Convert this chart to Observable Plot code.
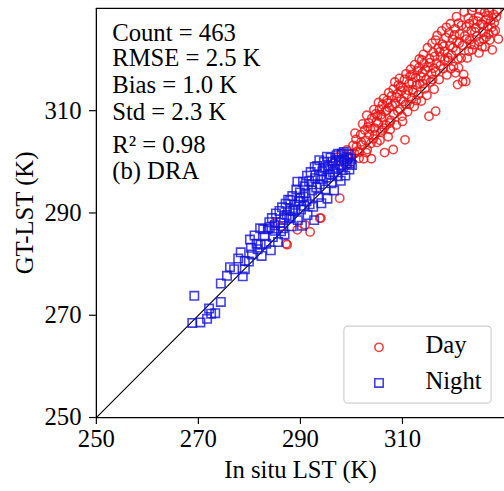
<!DOCTYPE html>
<html><head><meta charset="utf-8">
<script src="https://cdn.jsdelivr.net/npm/d3@7"></script>
<script src="https://cdn.jsdelivr.net/npm/@observablehq/plot@0.6"></script>
<style>html,body{margin:0;padding:0;overflow:hidden;background:#fff}</style>
</head><body><div id="chart"></div><script>
const dayPoints = [
[284.9,288.0],[287.4,283.8],[289.4,286.7],[291.9,286.3],[293.8,289.0],[290.9,287.7],[294.0,289.0],[287.2,284.0],[297.7,292.9],[286.1,287.3],
[296.5,299.8],[297.3,300.9],[298.0,301.6],[298.6,300.4],[299.1,302.3],[299.5,300.9],[300.0,300.0],[300.3,303.2],[300.6,301.6],[300.9,304.4],
[301.2,302.1],[301.5,300.7],[301.8,305.3],[302.0,303.3],[302.4,300.6],[302.6,306.2],[302.8,304.2],[303.1,302.4],[303.4,307.6],[303.5,305.3],
[303.8,303.6],[304.0,308.5],[304.3,304.5],[304.5,306.6],[304.8,309.4],[305.0,303.8],[305.2,307.6],[305.5,310.3],[305.7,305.8],[305.9,308.7],
[306.1,311.2],[306.4,306.6],[306.6,309.8],[306.8,307.2],[307.0,312.0],[307.2,304.9],[307.4,310.6],[307.7,308.1],[307.9,312.9],[308.2,314.2],
[308.3,309.3],[308.6,311.4],[308.8,307.2],[309.0,313.3],[309.2,315.0],[309.5,310.3],[309.7,312.2],[309.9,308.9],[310.1,314.5],[310.4,316.1],
[310.6,311.2],[310.8,313.1],[311.0,309.8],[311.3,315.3],[311.5,316.8],[311.8,312.4],[312.0,314.1],[312.1,313.6],[312.3,310.8],[312.6,316.5],
[312.9,317.8],[313.2,318.4],[313.1,313.1],[313.4,315.3],[313.7,311.9],[313.9,317.4],[314.2,319.2],[314.4,314.3],[314.6,316.1],[314.8,313.0],
[315.0,318.5],[315.3,320.2],[315.5,315.6],[315.7,317.3],[316.0,321.4],[316.2,314.2],[316.5,317.6],[316.5,323.8],[316.7,319.3],[317.0,322.2],
[317.2,316.1],[317.5,320.5],[317.8,323.0],[318.0,318.2],[318.2,321.6],[318.5,324.3],[318.7,317.0],[319.0,319.8],[319.1,325.2],[319.3,322.7],
[319.6,320.9],[319.8,324.0],[320.0,318.6],[320.3,326.0],[320.5,321.7],[320.7,323.5],[321.0,318.4],[321.0,327.1],[321.2,325.0],[321.5,320.3],
[321.8,315.7],[322.0,317.1],[321.8,322.8],[322.2,324.6],[322.4,315.7],[322.5,326.4],[322.9,328.1],[323.0,321.6],[323.2,323.8],[323.5,325.7],
[323.7,321.9],[323.9,327.7],[324.1,322.9],[324.4,326.2],[324.6,324.6],[324.9,328.4],[325.1,323.5],[325.4,327.0],[325.6,322.5],[325.8,325.3],
[326.2,322.5],[326.1,329.2],[326.4,324.4],[326.8,328.6],[326.7,326.4],[327.1,323.8],[327.3,327.6],[327.6,321.9],[327.8,325.4],[328.2,325.7],
[328.4,328.3],[323.9,330.2],[320.4,317.4],[320.8,315.1],[315.2,308.9],[316.5,309.9],[310.5,304.3],[308.2,302.4],[306.5,301.8],[303.9,300.6],
[300.7,305.6],[301.9,303.9],[302.2,307.4],[303.0,309.1],[303.7,306.4],[304.4,310.2],[304.9,307.9],[305.3,311.6],[305.8,309.2],[306.3,312.4],
[306.9,310.1],[307.3,313.5],[307.6,306.3],[308.0,311.0],[308.5,315.6],[308.9,312.6],[309.4,316.3],[309.8,313.9],[310.2,311.8],[310.7,317.2],
[311.1,314.0],[311.6,318.1],[311.9,315.5],[312.4,319.0],[312.8,315.0],[313.3,320.1],[313.6,316.6],[314.1,321.0],[314.5,318.0],[314.9,322.3],
[315.4,319.4],[315.8,323.2],[316.3,320.6],[316.8,324.7],[317.3,321.5],[317.7,325.6],[318.1,322.6],[318.6,326.3],[318.9,320.4],[319.4,327.0],
[319.9,322.3],[320.2,324.8],[320.6,328.4],[321.1,323.2],[321.6,326.7],[322.1,329.3],[322.6,324.0],[323.1,327.0],[323.6,329.6],[324.2,325.4],
[324.7,327.5],[325.2,329.7],[325.7,326.8],[326.3,327.8],[327.0,329.5],[327.5,326.3],[328.0,327.2],[328.6,329.4],[328.8,324.0],[326.9,325.0],
[325.0,321.3],[322.7,320.3],[319.5,318.2],[317.4,318.8],[314.0,315.3],[311.4,311.2],[309.1,309.9],[306.0,306.2],[304.6,305.3],[301.6,301.9],
[299.8,301.5],[298.9,299.4],[302.9,301.8],[305.6,304.2],[307.5,307.6],[310.0,307.9],[312.7,312.0],[315.9,316.1],[318.3,319.9],[320.9,320.2],
[323.4,323.0],[325.9,324.0],[327.9,328.8],[316.1,318.3],[313.8,319.9],[311.9,317.1],[309.6,314.7],[307.1,311.5],[305.1,309.0],[303.2,306.8],
[301.0,303.0]
];
const nightPoints = [
[268.8,268.5],[270.4,268.6],[269.2,273.8],[271.7,269.3],[272.5,270.3],[272.1,271.3],[274.4,272.6],[274.4,276.2],[275.6,277.7],[276.2,279.4],
[278.7,277.6],[279.1,280.6],[279.1,279.0],[279.9,280.5],[280.5,281.9],[280.1,284.8],
[280.3,283.2],[281.6,282.9],[281.0,285.6],[282.4,281.6],[282.7,286.8],[283.3,284.0],[283.9,288.2],[284.2,282.7],[284.9,286.5],[285.2,289.9],
[285.6,284.3],[286.1,288.1],[286.4,291.1],[286.9,285.8],[287.3,289.6],[287.6,292.6],[288.0,292.5],[288.3,287.4],[288.6,290.4],[289.0,290.6],
[289.2,294.6],[289.5,288.6],[289.8,292.3],[290.3,287.5],[290.5,296.1],[290.7,291.4],[291.0,293.8],[291.4,289.6],[291.7,296.2],[292.0,298.0],
[292.3,294.4],[292.5,291.2],[292.7,288.6],[292.9,296.8],[293.3,299.2],[293.5,293.1],[293.8,295.6],[294.1,291.9],[294.3,298.1],[294.6,300.0],
[294.9,294.6],[295.1,296.9],[295.3,292.8],[295.6,299.1],[295.9,300.8],[296.1,295.8],[296.4,298.0],[296.6,294.4],[296.9,300.3],[297.1,301.3],
[297.3,297.2],[297.6,299.4],[297.9,296.3],[298.1,301.6],[298.3,298.4],[298.6,300.5],[298.8,297.3],[299.1,299.6],[299.4,301.5],[299.6,298.5],
[299.9,300.6],[300.1,299.4],[283.0,285.5],[286.8,289.1],[289.9,294.0],[291.2,292.3],[293.9,297.2],[295.4,298.6],[297.6,300.3],[290.8,295.2],
[287.9,290.5],[284.6,285.3],
[281.4,284.0],[282.1,287.0],[283.6,286.9],[284.4,289.0],[285.0,287.6],[285.9,290.4],[286.6,287.0],[287.1,291.8],[287.8,288.9],[288.4,293.3],
[288.9,291.6],[289.4,296.1],[290.1,290.7],[290.6,293.2],[291.3,297.3],[291.8,291.7],[292.2,295.6],[292.8,299.0],[293.1,295.0],[293.7,300.3],
[294.2,296.6],[294.7,298.9],[295.2,301.0],[295.8,297.6],[296.3,300.0],[296.8,298.6],[297.4,301.6],[298.0,299.2],[298.5,301.9],[299.2,300.9],
[299.7,299.7],[290.0,292.9],[288.1,289.3],[286.2,286.4],[284.0,287.2],[282.2,283.8],[277.0,279.0],[277.8,281.1],[278.3,282.3],[273.3,270.4]
];
const xTicks = [250, 270, 290, 310];
const yTicks = [250, 270, 290, 310];
const axisLimits = [250, 330];
const oneToOne = [250, 330];
const statLines = ["Count = 463", "RMSE = 2.5 K", "Bias = 1.0 K", "Std = 2.3 K", "R\u00B2 = 0.98", "(b) DRA"];
const legendLabels = ["Day", "Night"];
const xLabel = "In situ LST (K)";
const yLabel = "GT-LST (K)";

const dayColor = "#ee1111";
const nightColor = "#1111dd";
const fs = 25;
const statDy = [15, 41, 67.5, 95, 129, 154.5];

const legendBox = (index, scales, values, dim) => d3.create("svg:rect")
  .attr("x", dim.width - dim.marginRight - 162)
  .attr("y", dim.height - dim.marginBottom - 92)
  .attr("width", 149).attr("height", 78).attr("rx", 4)
  .attr("fill", "white").attr("fill-opacity", 0.8)
  .attr("stroke", "#cfcfcf").attr("stroke-width", 1.2).node();

const chart = Plot.plot({
  width: 510, height: 491,
  marginTop: 8, marginLeft: 97, marginRight: 0, marginBottom: 69,
  x: {domain: axisLimits},
  y: {domain: axisLimits},
  style: {fontFamily: "'Liberation Serif', 'Times New Roman', serif", fontSize: fs + "px", color: "black", background: "white"},
  marks: [
    Plot.line(oneToOne, {x: d => d, y: d => d, stroke: "black", strokeWidth: 1.1}),
    Plot.dot(dayPoints, {x: d => d[0], y: d => d[1], symbol: "circle", r: 4.2, stroke: dayColor, strokeOpacity: 0.8, strokeWidth: 1.6, fill: "none", clip: true}),
    Plot.dot(nightPoints, {x: d => d[0], y: d => d[1], symbol: "square", r: 4.8, stroke: nightColor, strokeOpacity: 0.8, strokeWidth: 1.6, fill: "none", clip: true}),
    Plot.ruleX([axisLimits[0]], {stroke: "black", strokeWidth: 1.3}),
    Plot.ruleY([axisLimits[0]], {stroke: "black", strokeWidth: 1.3}),
    Plot.ruleY([axisLimits[1]], {stroke: "black", strokeWidth: 1.3}),
    Plot.axisX({ticks: xTicks, tickSize: 7, tickPadding: 5, label: null, strokeWidth: 1.2}),
    Plot.axisY({ticks: yTicks, tickSize: 7, tickPadding: 8, label: null, strokeWidth: 1.2}),
    ...statLines.map((s, i) => Plot.text([s], {text: d => d, frameAnchor: "top-left", dx: 16, dy: statDy[i], lineAnchor: "top", textAnchor: "start", fontSize: fs})),
    Plot.text([yLabel], {text: d => d, frameAnchor: "left", rotate: -90, dx: -72, lineAnchor: "middle", textAnchor: "middle", fontSize: fs}),
    Plot.text([xLabel], {text: d => d, frameAnchor: "bottom", dy: 53, lineAnchor: "middle", textAnchor: "middle", fontSize: fs}),
    legendBox,
    Plot.dot([legendLabels[0]], {frameAnchor: "bottom-right", dx: -127, dy: -71, symbol: "circle", r: 4.2, stroke: dayColor, strokeOpacity: 0.8, strokeWidth: 1.6, fill: "none"}),
    Plot.dot([legendLabels[1]], {frameAnchor: "bottom-right", dx: -127, dy: -35, symbol: "square", r: 4.8, stroke: nightColor, strokeOpacity: 0.8, strokeWidth: 1.6, fill: "none"}),
    Plot.text([legendLabels[0]], {text: d => d, frameAnchor: "bottom-right", dx: -80, dy: -73, textAnchor: "start", lineAnchor: "middle", fontSize: fs}),
    Plot.text([legendLabels[1]], {text: d => d, frameAnchor: "bottom-right", dx: -80, dy: -37, textAnchor: "start", lineAnchor: "middle", fontSize: fs})
  ]
});
document.getElementById("chart").appendChild(chart);
</script></body></html>
